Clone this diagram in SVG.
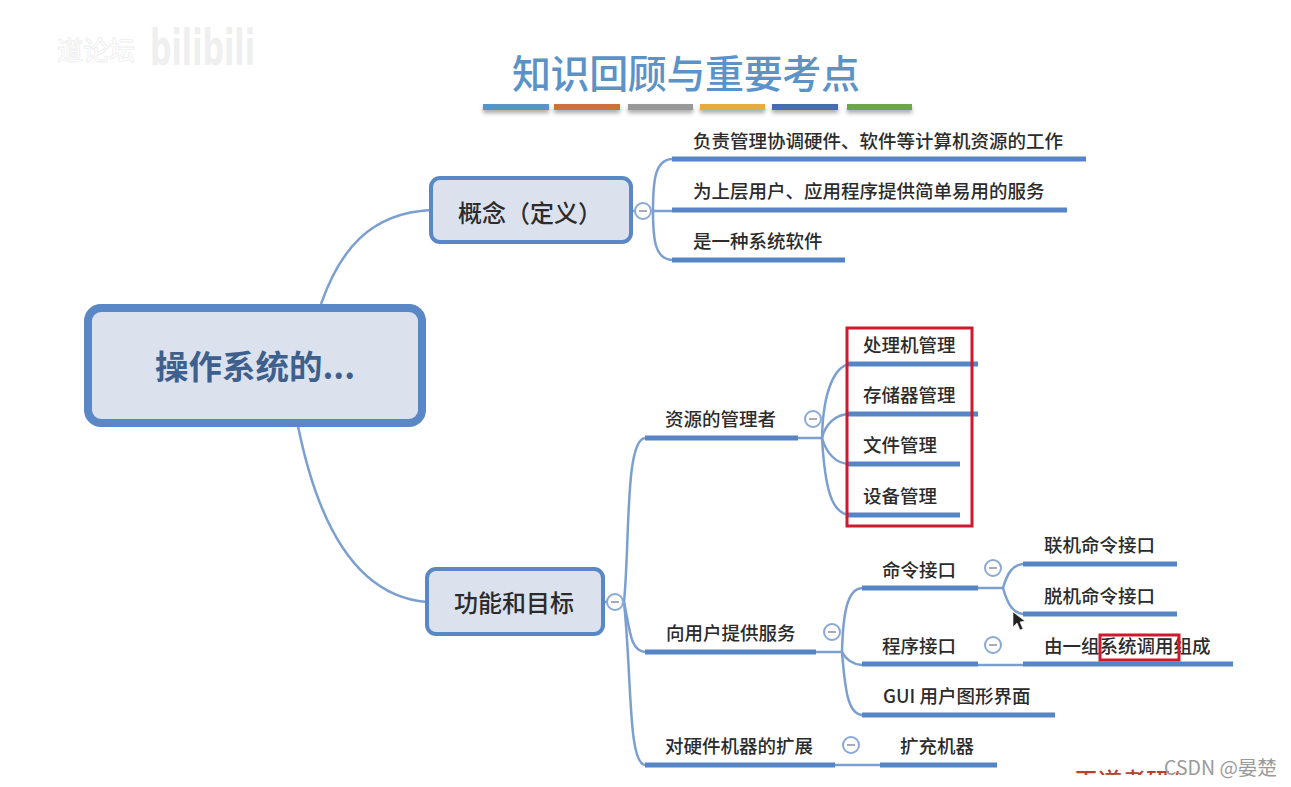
<svg xmlns="http://www.w3.org/2000/svg" width="1291" height="787" viewBox="0 0 1291 787">
<style>
text{font-family:"Noto Sans CJK SC","Liberation Sans",sans-serif;fill:#2b2b2b;font-size:18.5px;font-weight:500}
.c{fill:none;stroke:#7ba0d0;stroke-width:2.5}
.u{fill:none;stroke:#5585c4;stroke-width:5}
.b{fill:#dbe2ee;stroke:#5a87c5;stroke-width:4}
.red{fill:none;stroke:#d0182f;stroke-width:3}
.co{fill:#fff;stroke:#8aa9d6;stroke-width:2}
.cm{stroke:#a9a9b8;stroke-width:2}
</style>
<defs>
<clipPath id="bot"><rect x="0" y="0" width="1291" height="775"/></clipPath>
<filter id="sh" x="-5%" y="-100%" width="110%" height="400%"><feDropShadow dx="0" dy="3" stdDeviation="2" flood-color="#000" flood-opacity=".35"/></filter>
</defs>
<rect width="1291" height="787" fill="#fff"/>
<g id="watermark">
<text x="57" y="60" style="font-size:26px;fill:#fff;stroke:#eee;stroke-width:.8">道论坛</text>
<text x="150" y="65" style="font-family:'DejaVu Sans',sans-serif;font-size:50px;font-weight:bold;fill:#efefef" textLength="105" lengthAdjust="spacingAndGlyphs">bilibili</text>
</g>
<g id="title">
<text x="686" y="88" text-anchor="middle" style="font-size:39px;fill:#5b93c8" textLength="348" lengthAdjust="spacing">知识回顾与重要考点</text>
<g filter="url(#sh)">
<rect x="483" y="104" width="66" height="6" fill="#5a93c6"/>
<rect x="554" y="104" width="66" height="6" fill="#cf6f3d"/>
<rect x="628" y="104" width="65" height="6" fill="#989898"/>
<rect x="700" y="104" width="65" height="6" fill="#e7ac3a"/>
<rect x="772" y="104" width="66" height="6" fill="#4a6cb0"/>
<rect x="847" y="104" width="65" height="6" fill="#6ea644"/>
</g>
</g>
<g id="connectors">
<path class="c" d="M321 304C340 250 370 213 431 210"/>
<path class="c" d="M298 426C315 510 350 596 427 602"/>
<path class="c" d="M631 211H672"/>
<path class="c" d="M653 211C653 180 655 160 672 159"/>
<path class="c" d="M653 211C653 240 655 259 672 260"/>
<path class="c" d="M603 602H624"/>
<path class="c" d="M624 602C630 540 625 440 645 438"/>
<path class="c" d="M624 602C630 630 630 651 645 652"/>
<path class="c" d="M624 602C632 680 628 763 645 765"/>
<path class="c" d="M798 438H822"/>
<path class="c" d="M822 438C823 390 835 366 850 364"/>
<path class="c" d="M822 438C825 425 835 414 850 414"/>
<path class="c" d="M822 438C826 452 835 464 850 464"/>
<path class="c" d="M822 438C825 490 832 514 850 515"/>
<path class="c" d="M816 652H842"/>
<path class="c" d="M842 652C843 610 848 589 862 588"/>
<path class="c" d="M842 652C845 658 850 664 862 665"/>
<path class="c" d="M842 652C845 690 848 714 862 715"/>
<path class="c" d="M978 588H1003"/>
<path class="c" d="M1003 588C1007 574 1012 565 1023 564"/>
<path class="c" d="M1003 588C1007 602 1012 613 1023 614"/>
<path class="c" d="M978 665H1023"/>
<path class="c" d="M835 765H880"/>
</g>
<g id="root"><rect x="88" y="308" width="334" height="115" rx="13" fill="#dbe2ee" stroke="#5a87c5" stroke-width="8"/>
<text x="255" y="379" text-anchor="middle" style="font-size:33.5px;font-weight:bold;fill:#3f5f8d">操作系统的...</text></g>
<g id="concept"><rect class="b" x="431" y="178" width="200" height="64" rx="9"/>
<text x="530" y="222" text-anchor="middle" style="font-size:24px">概念（定义）</text>
<circle class="co" cx="643" cy="211" r="8"/><path class="cm" d="M639 211H647"/></g>
<g id="func"><rect class="b" x="427" y="569" width="176" height="65" rx="9"/>
<text x="514" y="612" text-anchor="middle" style="font-size:24px">功能和目标</text>
<circle class="co" cx="615" cy="602" r="8"/><path class="cm" d="M611 602H619"/></g>
<g id="n1"><text x="693" y="148">负责管理协调硬件、软件等计算机资源的工作</text><path class="u" d="M672 159H1086"/></g>
<g id="n2"><text x="693" y="198">为上层用户、应用程序提供简单易用的服务</text><path class="u" d="M672 210H1067"/></g>
<g id="n3"><text x="693" y="248">是一种系统软件</text><path class="u" d="M672 260H845"/></g>
<g id="res"><text x="665" y="426">资源的管理者</text><path class="u" d="M645 438H798"/>
<circle class="co" cx="813" cy="419" r="8"/><path class="cm" d="M809 419H817"/></g>
<g id="r1"><text x="863" y="352">处理机管理</text><path class="u" d="M846 364H978"/></g>
<g id="r2"><text x="863" y="402">存储器管理</text><path class="u" d="M846 414H978"/></g>
<g id="r3"><text x="863" y="452">文件管理</text><path class="u" d="M846 464H960"/></g>
<g id="r4"><text x="863" y="503">设备管理</text><path class="u" d="M846 515H960"/></g>
<rect id="redbox1" class="red" x="847" y="328" width="125" height="198"/>
<g id="svc"><text x="666" y="640">向用户提供服务</text><path class="u" d="M645 652H816"/>
<circle class="co" cx="832" cy="632" r="8"/><path class="cm" d="M828 632H836"/></g>
<g id="cmd"><text x="882" y="577">命令接口</text><path class="u" d="M862 588H978"/>
<circle class="co" cx="993" cy="568" r="8"/><path class="cm" d="M989 568H997"/></g>
<g id="cmd1"><text x="1044" y="552">联机命令接口</text><path class="u" d="M1023 564H1177"/></g>
<g id="cmd2"><text x="1044" y="603">脱机命令接口</text><path class="u" d="M1023 614H1177"/></g>
<g id="prog"><text x="882" y="653">程序接口</text><path class="u" d="M862 664H978"/>
<circle class="co" cx="993" cy="645" r="8"/><path class="cm" d="M989 645H997"/></g>
<g id="prog1"><text x="1044" y="653">由一组系统调用组成</text><path class="u" d="M1023 664H1233"/>
<rect class="red" x="1100" y="635" width="79" height="25"/></g>
<g id="gui"><text x="883" y="703">GUI 用户图形界面</text><path class="u" d="M862 715H1055"/></g>
<g id="hw"><text x="665" y="753">对硬件机器的扩展</text><path class="u" d="M645 765H835"/>
<circle class="co" cx="851" cy="745" r="8"/><path class="cm" d="M847 745H855"/></g>
<g id="ext"><text x="900" y="753">扩充机器</text><path class="u" d="M880 765H997"/></g>
<path id="cursor" d="M1013 612V627L1017 623L1020 630L1023 629L1020 622L1025 621Z" fill="#222" stroke="#fff" stroke-width=".6"/>
<g id="footer"><g clip-path="url(#bot)"><text x="1074" y="790" style="font-size:24px;fill:#b5412f">王道考研/</text></g>
<text x="1164" y="775" style="font-size:19.5px;fill:#9a9a9a;font-weight:400">CSDN @晏楚</text></g>
</svg>
